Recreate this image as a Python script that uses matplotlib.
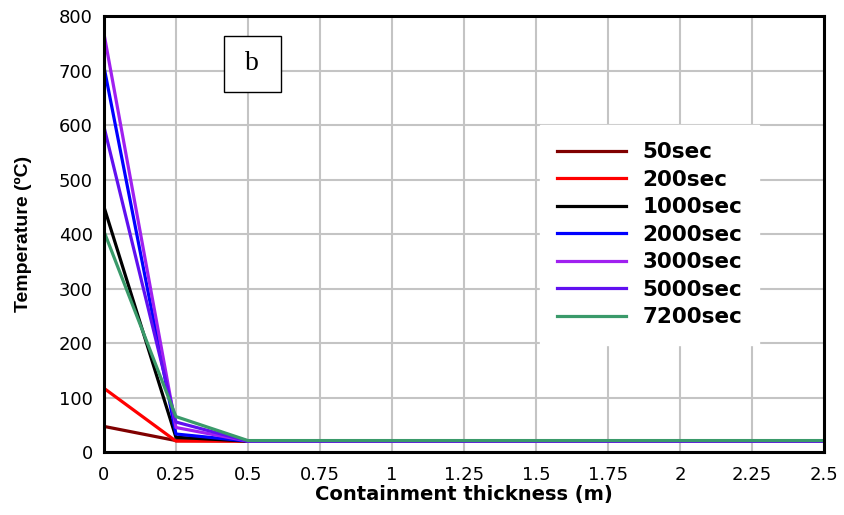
import matplotlib
matplotlib.use("Agg")
import matplotlib.pyplot as plt
from matplotlib.patches import Rectangle

# thickness positions (m)
thickness = [0, 0.25, 0.5, 0.75, 1.0, 1.25, 1.5, 1.75, 2.0, 2.25, 2.5]
xlabels = ["0", "0.25", "0.5", "0.75", "1", "1.25", "1.5", "1.75", "2", "2.25", "2.5"]

# temperatures (C) for each time
t50 = [47, 21, 20, 20, 20, 20, 20, 20, 20, 20, 20]
t200 = [117, 20, 20, 20, 20, 20, 20, 20, 20, 20, 20]
t1000 = [450, 27, 20, 20, 20, 20, 20, 20, 20, 20, 20]
t2000 = [707, 33, 20, 20, 20, 20, 20, 20, 20, 20, 20]
t3000 = [768, 45, 20, 20, 20, 20, 20, 20, 20, 20, 20]
t5000 = [597, 55, 20, 20, 20, 20, 20, 20, 20, 20, 20]
t7200 = [405, 65, 21, 21, 21, 21, 21, 21, 21, 21, 21]

labels = ["50sec", "200sec", "1000sec", "2000sec", "3000sec", "5000sec", "7200sec"]
series = [t50, t200, t1000, t2000, t3000, t5000, t7200]
colores = ["#800000", "#ff0000", "#000000", "#0000ff", "#a020f0", "#6010f0", "#3a9a6a"]

plt.rcParams['font.family'] = ['DejaVu Sans']

fig = plt.figure(figsize=(8.45, 5.15), dpi=100)
ax = fig.add_axes([0.123, 0.1223, 0.852, 0.8466])

for y, lab, c in zip(series, labels, colores):
    ax.plot(thickness, y, color=c, linewidth=2.3, label=lab)

ax.set_xlim(0, 2.5)
ax.set_ylim(0, 800)
ax.set_xticks(thickness)
ax.set_xticklabels(xlabels)
ax.set_yticks(range(0, 801, 100))
ax.tick_params(length=0, labelsize=13)
ax.tick_params(axis="x", pad=10)
ax.tick_params(axis="y", pad=8)
ax.grid(True, color="#c4c4c4", linewidth=1.5)
for s in ax.spines.values():
    s.set_linewidth(2.2)
    s.set_color("black")

ax.set_xlabel("Containment thickness (m)", fontsize=14, fontweight="bold", labelpad=1)
ax.set_ylabel("Temperature (ºC)", fontsize=14, fontweight="bold", labelpad=19,
              family="Liberation Sans")

leg = ax.legend(loc="upper left", bbox_to_anchor=(0.6056, 0.75), frameon=True, fancybox=False,
                edgecolor="white", framealpha=1, prop={"weight": "bold", "size": 15.5},
                handlelength=3.2, labelspacing=0.35, borderpad=0.8, handletextpad=0.75,
                borderaxespad=0)

# "b" label box
ax.add_patch(Rectangle((0.1667, 0.8257), 0.0791, 0.1283, transform=ax.transAxes,
                       facecolor="white", edgecolor="black", linewidth=1, zorder=5))
ax.text(0.2062, 0.89, "b", transform=ax.transAxes, fontsize=20, family="Liberation Serif",
        ha="center", va="center", zorder=6)

fig.savefig("out.png", dpi=100)
